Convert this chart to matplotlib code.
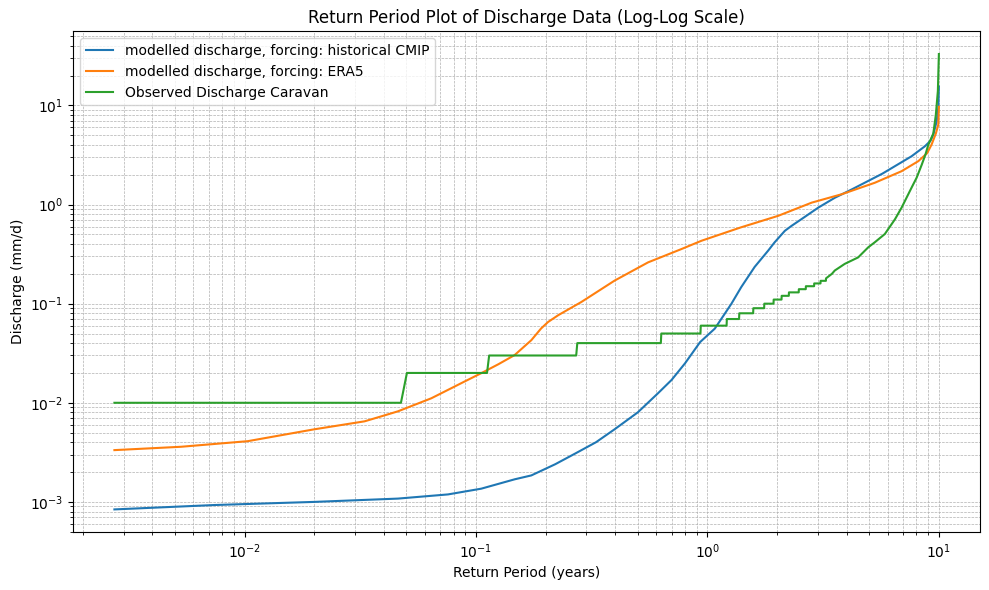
import matplotlib
matplotlib.use("Agg")
from matplotlib import pyplot as plt

# modelled discharge, forcing: historical CMIP
cmip_T = [0.00274, 0.00741, 0.0200, 0.0460, 0.0757, 0.1054, 0.1469, 0.1734,
          0.22, 0.27, 0.33, 0.397, 0.50, 0.612, 0.70, 0.80, 0.93, 1.076, 1.17,
          1.27, 1.40, 1.60, 1.83, 1.95, 2.16, 2.31, 2.55, 3.01, 3.55, 4.2,
          4.95, 5.7, 6.46, 7.62, 8.70, 9.20, 9.46, 9.78, 9.95, 10.0]
cmip_Q = [0.00084, 0.00093, 0.00100, 0.00108, 0.00119, 0.00136, 0.00169, 0.00185,
          0.0024, 0.0031, 0.0040, 0.0054, 0.0080, 0.0125, 0.017, 0.025, 0.041,
          0.056, 0.075, 0.100, 0.147, 0.235, 0.343, 0.415, 0.543, 0.61, 0.713,
          0.93, 1.17, 1.42, 1.73, 2.05, 2.44, 3.07, 3.87, 4.4, 5.07, 6.9, 9.5,
          15.5]

# modelled discharge, forcing: ERA5
era5_T = [0.00274, 0.00532, 0.01033, 0.0200, 0.0330, 0.0390, 0.0460, 0.0641,
          0.0757, 0.0893, 0.1054, 0.1250, 0.1469, 0.1734, 0.191, 0.2048,
          0.2264, 0.2853, 0.3973, 0.554, 0.773, 0.942, 1.31, 1.40, 2.02,
          2.82, 3.80, 5.29, 6.90, 8.15, 8.9, 9.30, 9.70, 9.94, 10.0]
era5_Q = [0.00333, 0.0036, 0.0041, 0.0054, 0.0065, 0.0073, 0.0082, 0.0111,
          0.0135, 0.0164, 0.0199, 0.0245, 0.0303, 0.0428, 0.0561, 0.0653,
          0.0764, 0.104, 0.171, 0.261, 0.356, 0.431, 0.56, 0.59, 0.769,
          1.045, 1.27, 1.66, 2.17, 2.74, 3.3, 4.03, 5.2, 6.38, 9.7]

# Observed Discharge Caravan (quantised at 0.01 mm/d)
obs_T = [0.00274, 0.0474, 0.0503, 0.1116, 0.114, 0.271, 0.274, 0.629, 0.632,
         0.933, 0.936, 1.21, 1.213, 1.37, 1.373, 1.576, 1.579, 1.758, 1.761,
         1.93, 1.933, 2.09, 2.093, 2.247, 2.25, 2.48, 2.483, 2.66, 2.663,
         2.89, 2.893, 3.08, 3.083, 3.25, 3.253, 3.45, 3.55, 3.92, 4.48, 4.95,
         5.29, 5.84, 6.46, 6.90, 7.62, 8.01, 8.42, 8.75, 9.00, 9.46, 9.70,
         9.90, 10.0]
obs_Q = [0.01, 0.01, 0.02, 0.02, 0.03, 0.03, 0.04, 0.04, 0.05,
         0.05, 0.06, 0.06, 0.07, 0.07, 0.08, 0.08, 0.09, 0.09, 0.10,
         0.10, 0.11, 0.11, 0.12, 0.12, 0.13, 0.13, 0.14, 0.14, 0.15,
         0.15, 0.16, 0.16, 0.17, 0.17, 0.18, 0.20, 0.216, 0.252, 0.293, 0.37,
         0.417, 0.504, 0.71, 0.93, 1.48, 1.86, 2.5, 3.2, 4.0, 5.2, 8.0,
         14.0, 33.0]

fig, ax = plt.subplots(figsize=(9.89, 5.9), dpi=100)
ax.plot(cmip_T, cmip_Q, label='modelled discharge, forcing: historical CMIP')
ax.plot(era5_T, era5_Q, label='modelled discharge, forcing: ERA5')
ax.plot(obs_T, obs_Q, label='Observed Discharge Caravan')
ax.set_xscale('log')
ax.set_yscale('log')
ax.set_xlabel('Return Period (years)')
ax.set_ylabel('Discharge (mm/d)')
ax.set_title('Return Period Plot of Discharge Data (Log-Log Scale)')
ax.legend(loc='upper left')
ax.grid(True, which='both', linestyle='--', linewidth=0.5)
fig.subplots_adjust(left=0.074, right=0.991, top=0.947, bottom=0.098)
plt.savefig('out.png', dpi=100)
